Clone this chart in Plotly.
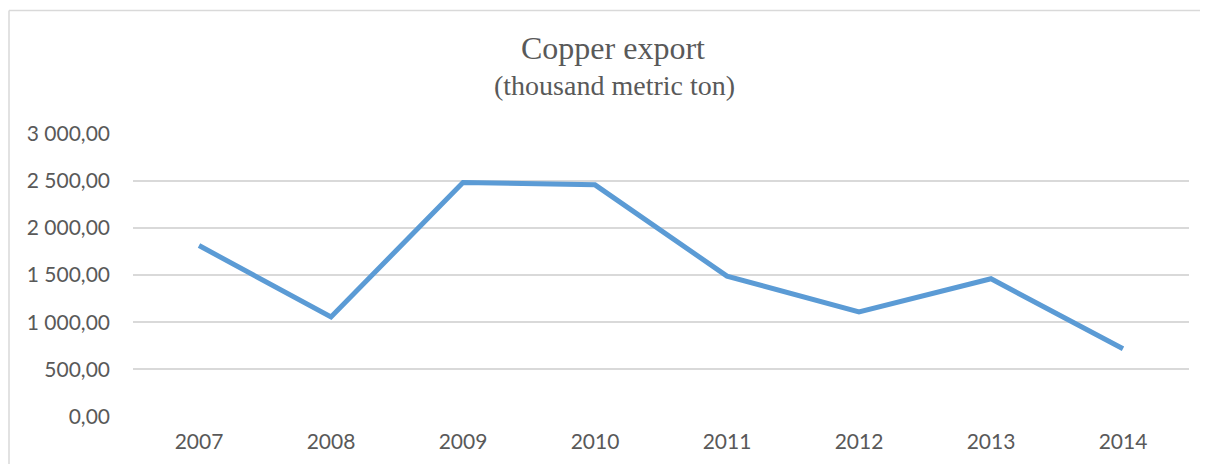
import plotly.graph_objects as go

# Copper export data
years = ['2007', '2008', '2009', '2010', '2011', '2012', '2013', '2014']
export_kt = [1812, 1055, 2480, 2455, 1488, 1108, 1460, 718]

# page body has an 8px margin on every side; keep the figure inside it
OFF = 8
W, H = 1208 - 2 * OFF, 472 - 2 * OFF
# plot area in page pixels: x 133..1189, y 133..417
L, T = 133 - OFF, 133 - OFF
R, B = (OFF + W) - 1189, (OFF + H) - 417
pw, ph = W - L - R, H - T - B


def px_x(x):
    # page pixel -> paper coordinate
    return (x - OFF - L) / pw


def px_y(y):
    return (H - B - (y - OFF)) / ph


fig = go.Figure()

fig.add_trace(go.Scatter(
    x=years,
    y=export_kt,
    mode='lines',
    line={'color': '#5B9BD5', 'width': 5},
    hoverinfo='x+y',
))

serif = 'Liberation Serif, Times New Roman, serif'
frame = {'color': '#D9D9D9', 'width': 1.5}

fig.update_layout(
    width=W,
    height=H,
    margin=dict(l=L, r=R, t=T, b=B, pad=0),
    paper_bgcolor='white',
    plot_bgcolor='white',
    separators=', ',
    showlegend=False,
    font={'family': 'Lato, Carlito, sans-serif', 'size': 21, 'color': '#595959'},
    shapes=[
        # outer chart frame: only the top and left edges show in the crop
        dict(type='line', xref='paper', yref='paper',
             x0=px_x(9), x1=px_x(1230), y0=px_y(10.5), y1=px_y(10.5),
             line=frame, layer='below'),
        dict(type='line', xref='paper', yref='paper',
             x0=px_x(9), x1=px_x(9), y0=px_y(10.5), y1=px_y(500),
             line=frame, layer='below'),
    ],
    annotations=[
        dict(text='Copper export', xref='paper', yref='paper',
             x=px_x(613), y=px_y(48), showarrow=False,
             xanchor='center', yanchor='middle',
             font={'family': serif, 'size': 32, 'color': '#595959'}),
        dict(text='(thousand metric ton)', xref='paper', yref='paper',
             x=px_x(614), y=px_y(85), showarrow=False,
             xanchor='center', yanchor='middle',
             font={'family': serif, 'size': 28, 'color': '#595959'}),
    ],
)

fig.update_xaxes(
    type='category',
    range=[-0.5, 7.5],
    showgrid=False,
    showline=False,
    zeroline=False,
    ticks='',
    ticklabelstandoff=10,
    tickfont={'size': 21, 'color': '#595959'},
)

fig.update_yaxes(
    range=[-4, 3004],
    tickvals=[0, 500, 1000, 1500, 2000, 2500, 3000],
    tickformat=',.2f',
    showgrid=True,
    gridcolor='#D9D9D9',
    gridwidth=1.5,
    zeroline=False,
    showline=False,
    ticks='',
    ticklabelstandoff=22,
    tickfont={'size': 21, 'color': '#595959'},
)

fig.write_html("out.html")
